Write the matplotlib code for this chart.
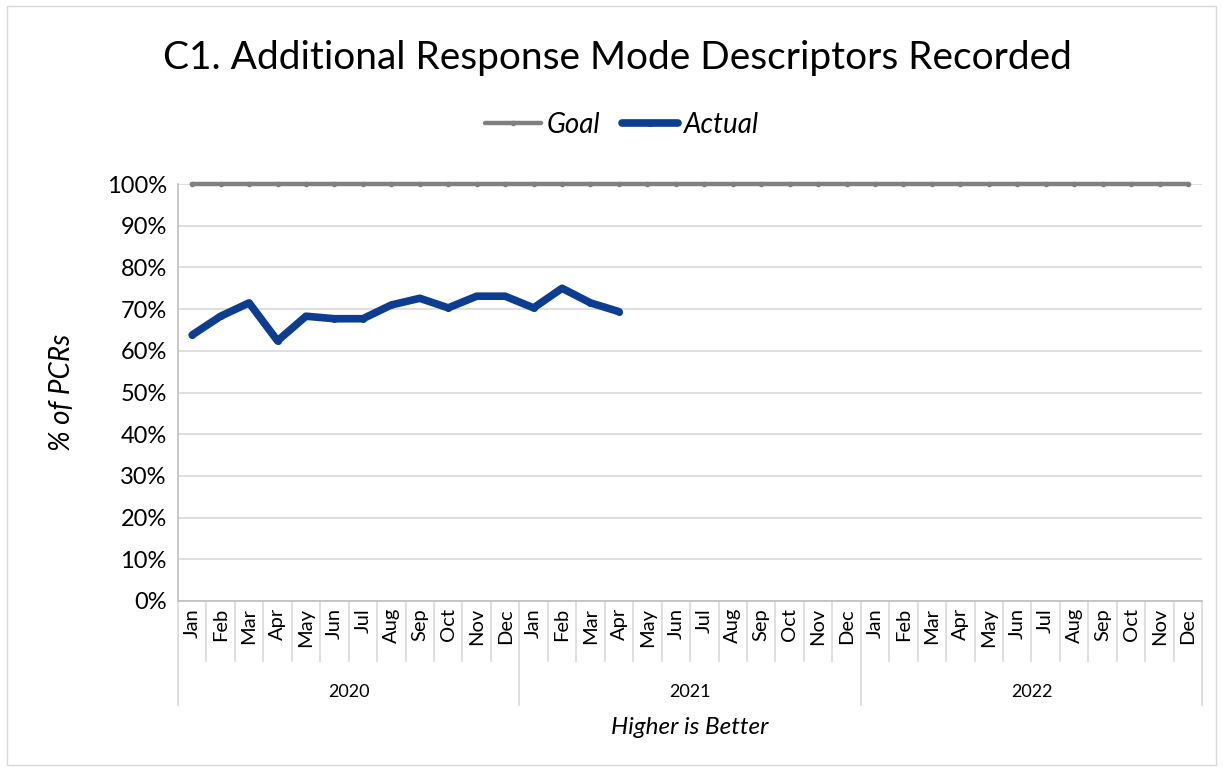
import matplotlib
matplotlib.use("Agg")
import matplotlib.pyplot as plt
import matplotlib.transforms as mtransforms
from matplotlib.patches import Rectangle

months = ["Jan", "Feb", "Mar", "Apr", "May", "Jun", "Jul", "Aug", "Sep", "Oct", "Nov", "Dec"]
years = ["2020", "2021", "2022"]
goal = [100] * 36
actual = [63.8, 68.3, 71.5, 62.4, 68.3, 67.7, 67.7, 71.0, 72.6, 70.3, 73.1, 73.1,
          70.3, 75.0, 71.5, 69.4]
yticks = list(range(0, 101, 10))

plt.rcParams['font.family'] = ['Lato', 'DejaVu Sans']

fig = plt.figure(figsize=(12.23, 7.71), dpi=100)
fig.patches.append(Rectangle((0.006, 0.008), 0.988, 0.984, transform=fig.transFigure,
                             fill=False, edgecolor='#D9D9D9', linewidth=1))
ax = fig.add_axes([0.1455, 0.2205, 0.8375, 0.5408])

n = len(months) * len(years)
x = list(range(n))
ax.plot(x, goal, color='#808080', linewidth=3.2, marker='o', markersize=3,
        solid_capstyle='round', label='Goal', zorder=3, clip_on=False)
ax.plot(x[:len(actual)], actual, color='#0D3D91', linewidth=5.5, marker='o', markersize=4,
        solid_capstyle='round', solid_joinstyle='round', label='Actual', zorder=4,
        clip_on=False)

ax.set_xlim(-0.5, n - 0.5)
ax.set_ylim(0, 100)
ax.set_yticks(yticks)
ax.set_yticklabels([f"{v}%" for v in yticks], fontsize=17)
ax.tick_params(axis='y', length=0, pad=8)
ax.set_xticks([])
ax.grid(axis='y', color='#D9D9D9', linewidth=1.2)
ax.set_axisbelow(True)
for s in ['top', 'right']:
    ax.spines[s].set_visible(False)
ax.spines['left'].set_color('#BFBFBF')
ax.spines['bottom'].set_color('#BFBFBF')
ax.spines['left'].set_linewidth(1.2)
ax.spines['bottom'].set_linewidth(1.2)

trans = mtransforms.blended_transform_factory(ax.transData, ax.transAxes)
px = 1.0 / (0.5408 * 771)  # one pixel in axes fraction (vertical)
month_bottom = -60 * px
year_bottom = -104 * px
for i in range(n + 1):
    xb = i - 0.5
    ybot = year_bottom if i % 12 == 0 else month_bottom
    ax.plot([xb, xb], [0, ybot], transform=trans, color='#D9D9D9', linewidth=1.2,
            clip_on=False)
for i in range(n):
    ax.text(i, -7 * px, months[i % 12], transform=trans, rotation=90, ha='center',
            va='top', fontsize=14.5)
for j, yr in enumerate(years):
    ax.text(j * 12 + 5.5, -91 * px, yr, transform=trans, ha='center', va='center',
            fontsize=13)

fig.text(0.564, 1 - 728 / 771, "Higher is Better", ha='center', va='center',
         fontsize=17.5, style='italic')
fig.text(0.051, 1 - 392 / 771, "% of PCRs", ha='center', va='center', rotation=90,
         fontsize=20, style='italic')
fig.text(0.505, 1 - 58 / 771, "C1. Additional Response Mode Descriptors Recorded",
         ha='center', va='center', fontsize=28)

leg = fig.legend(loc='center', bbox_to_anchor=(622 / 1223, 1 - 125 / 771), ncol=2,
                 frameon=False, prop={'style': 'italic', 'size': 20},
                 handlelength=2.0, handletextpad=0.2, columnspacing=0.8)

fig.savefig("out.png", dpi=100)
